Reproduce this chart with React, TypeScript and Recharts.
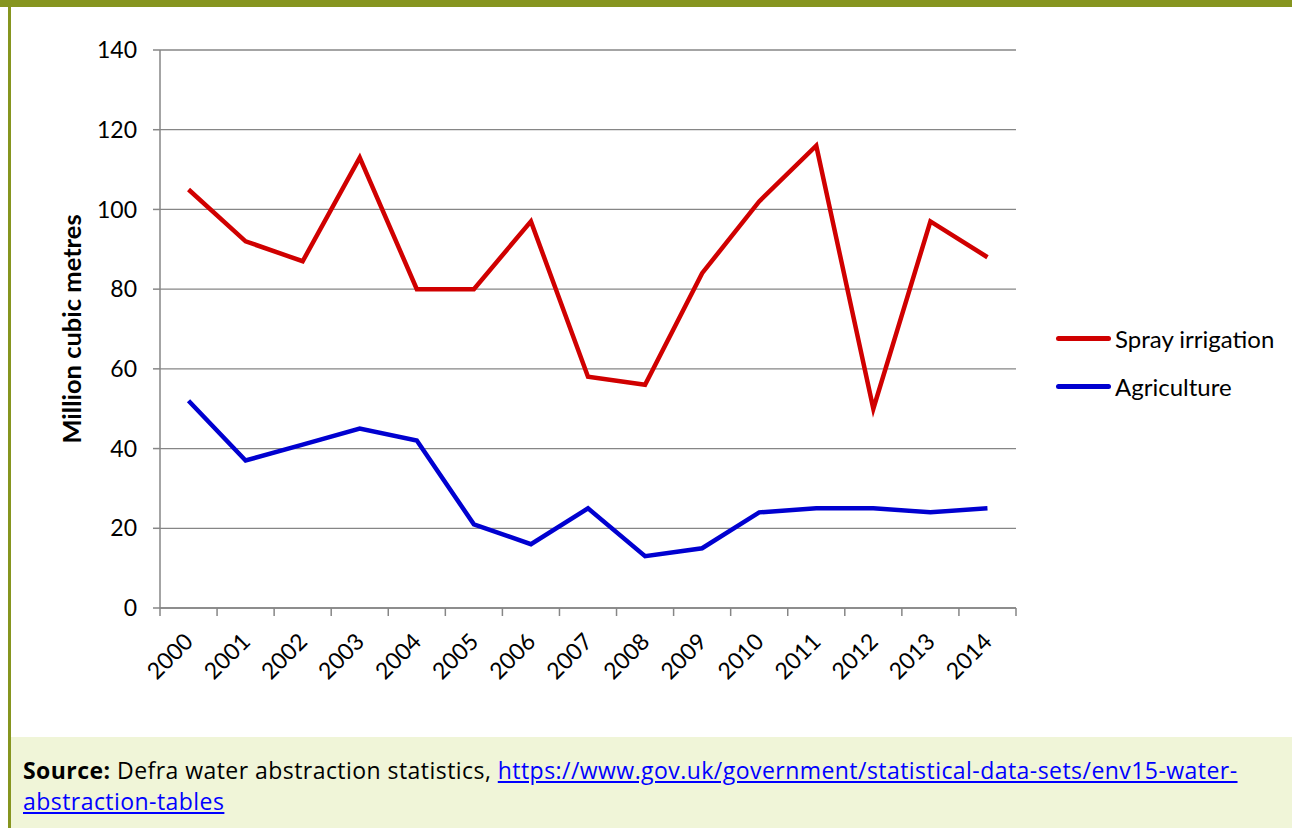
import { LineChart, Line, XAxis, YAxis, CartesianGrid } from 'recharts';

const years = ['2000', '2001', '2002', '2003', '2004', '2005', '2006', '2007', '2008', '2009', '2010', '2011', '2012', '2013', '2014'];
const sprayIrrigation = [105, 92, 87, 113, 80, 80, 97, 58, 56, 84, 102, 116, 50, 97, 88];
const agriculture = [52, 37, 41, 45, 42, 21, 16, 25, 13, 15, 24, 25, 25, 24, 25];
const yTicks = [0, 20, 40, 60, 80, 100, 120, 140];

const data = years.map((year, i) => ({
  i,
  year,
  spray: sprayIrrigation[i],
  agri: agriculture[i],
}));

// tick marks sit between categories, like the Excel original
const boundaryTicks = [...years.map((_, i) => i - 0.5), years.length - 0.5];

const CHART_W = 1292;
const CHART_H = 735;
const MARGIN = { top: 50, right: 276, left: 60, bottom: 0 };
const Y_AXIS_W = 100;
const PLOT_W = CHART_W - MARGIN.left - MARGIN.right - Y_AXIS_W;
const HALF_BAND = PLOT_W / years.length / 2;

const font = 'Lato, "Open Sans", sans-serif';
const grey = '#868686';
const red = '#D00000';
const blue = '#0000D0';

function YearTick(props: any) {
  const { x, y, payload } = props;
  const label = years[payload.value + 0.5];
  if (!label) return <g />;
  const ax = x + HALF_BAND + 6;
  const ay = y + 25;
  return (
    <text
      x={ax}
      y={ay}
      transform={`rotate(-45, ${ax}, ${ay})`}
      textAnchor="end"
      fontSize={23}
      fontFamily={font}
      fill="#000"
    >
      {label}
    </text>
  );
}

const legendItems = [
  { name: 'Spray irrigation', color: red },
  { name: 'Agriculture', color: blue },
];

export default function App() {
  return (
    <div style={{ position: 'absolute', left: 0, top: 0, width: 1292, height: 828, background: '#fff', overflow: 'hidden' }}>
      <div style={{ position: 'absolute', left: 0, top: 0, width: 1292, height: 7, background: '#86951F' }} />
      <div style={{ position: 'absolute', left: 8, top: 0, width: 3, height: 828, background: '#86951F' }} />
      <div style={{ position: 'absolute', left: 0, top: 0 }}>
        <LineChart width={CHART_W} height={CHART_H} data={data} margin={MARGIN}>
          <CartesianGrid vertical={false} stroke={grey} strokeWidth={1.3} />
          <XAxis
            dataKey="i"
            type="number"
            domain={[-0.5, years.length - 0.5]}
            ticks={boundaryTicks}
            interval={0}
            tick={<YearTick />}
            tickLine={{ stroke: grey, strokeWidth: 1.5 }}
            tickSize={8}
            axisLine={{ stroke: grey, strokeWidth: 1.5 }}
            height={127}
          />
          <YAxis
            domain={[0, 140]}
            ticks={yTicks}
            width={Y_AXIS_W}
            tick={{ fontSize: 23, fill: '#000', fontFamily: font }}
            tickLine={{ stroke: grey, strokeWidth: 1.5 }}
            tickSize={7}
            tickMargin={16}
            axisLine={{ stroke: grey, strokeWidth: 1.5 }}
            label={{
              value: 'Million cubic metres',
              angle: -90,
              position: 'insideLeft',
              offset: 12,
              style: { textAnchor: 'middle', fontSize: 25.5, fontWeight: 700, fontFamily: font, fill: '#000' },
            }}
          />
          <Line
            dataKey="spray"
            name="Spray irrigation"
            stroke={red}
            strokeWidth={4.5}
            dot={false}
            strokeLinejoin="miter"
            isAnimationActive={false}
          />
          <Line
            dataKey="agri"
            name="Agriculture"
            stroke={blue}
            strokeWidth={4.5}
            dot={false}
            strokeLinejoin="miter"
            isAnimationActive={false}
          />
        </LineChart>
      </div>
      <div style={{ position: 'absolute', left: 1056, top: 314, fontFamily: font, fontSize: 24, color: '#000' }}>
        {legendItems.map((it) => (
          <div key={it.name} style={{ display: 'flex', alignItems: 'center', height: 48 }}>
            <div style={{ width: 55, height: 5, borderRadius: 3, background: it.color, marginRight: 4 }} />
            <span>{it.name}</span>
          </div>
        ))}
      </div>
      <div
        style={{
          position: 'absolute',
          left: 11,
          top: 737,
          width: 1281,
          height: 91,
          background: '#F0F5D8',
          fontFamily: '"Open Sans", sans-serif',
          fontSize: 23,
          lineHeight: '31px',
          color: '#000',
          boxSizing: 'border-box',
          padding: '18px 12px 0 12px',
          letterSpacing: 0.45,
        }}
      >
        <b>Source:</b> Defra water abstraction statistics,{' '}
        <a href="#" style={{ color: '#0000FF' }}>
          https://www.gov.uk/government/statistical-data-sets/env15-water-
          <br />
          abstraction-tables
        </a>
      </div>
    </div>
  );
}
